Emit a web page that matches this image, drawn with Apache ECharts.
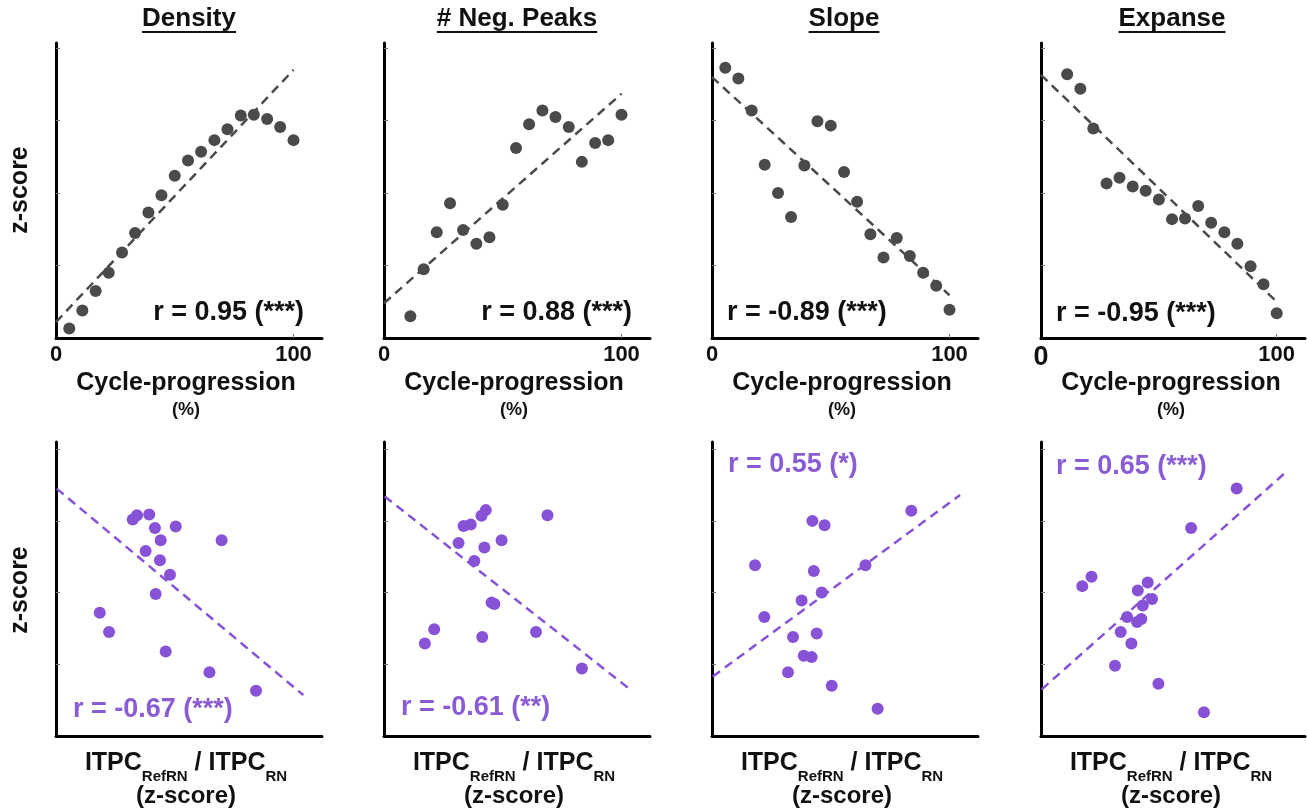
<!DOCTYPE html>
<html lang="en">
<head>
<meta charset="UTF-8" />
<title>Cycle-progression correlations</title>
<script src="https://cdn.jsdelivr.net/npm/echarts@6/dist/echarts.min.js"></script>
<style>
  html, body { margin: 0; padding: 0; background: #fff; }
  #main { width: 1307px; height: 811px; }
</style>
</head>
<body>
<div id="main"></div>
<script>
// ---- data ----
const titles = ["Density", "# Neg. Peaks", "Slope", "Expanse"]

// top row: cycle progression (%) vs z-score
const progress18 = [5.6, 11.1, 16.7, 22.2, 27.8, 33.3, 38.9, 44.4, 50, 55.6, 61.1, 66.7, 72.2, 77.8, 83.3, 88.9, 94.4, 100]
const progress17 = [11.1, 16.7, 22.2, 27.8, 33.3, 38.9, 44.4, 50, 55.6, 61.1, 66.7, 72.2, 77.8, 83.3, 88.9, 94.4, 100]

const densityZ = [0.13, 0.38, 0.65, 0.9, 1.18, 1.45, 1.73, 1.97, 2.24, 2.45, 2.57, 2.73, 2.88, 3.07, 3.08, 3.02, 2.91, 2.73]
const negPeaksZ = [0.3, 0.95, 1.46, 1.86, 1.49, 1.3, 1.39, 1.84, 2.62, 2.95, 3.14, 3.05, 2.91, 2.43, 2.69, 2.73, 3.08]
const slopeZ = [3.73, 3.58, 3.14, 2.39, 2.0, 1.67, 2.38, 2.99, 2.93, 2.29, 1.88, 1.43, 1.11, 1.38, 1.13, 0.9, 0.72, 0.39]
const expanseZ = [3.64, 3.44, 2.89, 2.13, 2.21, 2.09, 2.03, 1.91, 1.64, 1.65, 1.82, 1.59, 1.46, 1.3, 0.99, 0.74, 0.34]

// fit lines (value at 0 % and at 100 %)
const densityFit = [0.22, 3.7]
const negPeaksFit = [0.48, 3.37]
const slopeFit = [3.6, 0.59]
const expanseFit = [3.63, 0.5]

// bottom row: ITPC ratio (z-score) vs feature z-score
const densityItpc = [1.07, 1.13, 1.30, 1.38, 1.67, 1.46, 2.31, 1.25, 1.45, 1.59, 1.39, 0.61, 0.74, 1.53, 2.14, 2.79]
const densityItpcZ = [3.02, 3.08, 3.09, 2.9, 2.92, 2.73, 2.73, 2.58, 2.45, 2.25, 1.98, 1.72, 1.45, 1.18, 0.89, 0.63]
const negPeaksItpc = [1.42, 1.36, 1.21, 1.11, 2.28, 1.64, 1.04, 1.40, 1.26, 1.50, 1.54, 0.70, 0.57, 1.37, 2.12, 2.76]
const negPeaksItpcZ = [3.15, 3.07, 2.95, 2.93, 3.08, 2.73, 2.69, 2.63, 2.44, 1.86, 1.84, 1.49, 1.29, 1.38, 1.45, 0.94]
const slopeItpc = [2.78, 1.40, 1.57, 0.60, 1.42, 2.14, 1.53, 1.25, 0.73, 1.13, 1.46, 1.28, 1.39, 1.06, 1.67, 2.31]
const slopeItpcZ = [3.14, 3.0, 2.94, 2.38, 2.3, 2.38, 2.0, 1.89, 1.66, 1.38, 1.43, 1.12, 1.1, 0.89, 0.7, 0.38]
const expanseItpc = [2.75, 2.11, 0.71, 0.58, 1.50, 1.36, 1.56, 1.43, 1.21, 1.41, 1.35, 1.12, 1.27, 1.04, 1.65, 2.29]
const expanseItpcZ = [3.45, 2.9, 2.22, 2.09, 2.14, 2.03, 1.91, 1.82, 1.66, 1.63, 1.59, 1.45, 1.29, 0.98, 0.73, 0.33]

const densityItpcFit = [[0.01, 3.45], [3.45, 0.57]]
const negPeaksItpcFit = [[0.01, 3.34], [3.42, 0.66]]
const slopeItpcFit = [[0.01, 0.83], [3.46, 3.36]]
const expanseItpcFit = [[0.01, 0.65], [3.42, 3.66]]

const topR = ["r = 0.95 (***)", "r = 0.88 (***)", "r = -0.89 (***)", "r = -0.95 (***)"]
const bottomR = ["r = -0.67 (***)", "r = -0.61 (**)", "r = 0.55 (*)", "r = 0.65 (***)"]

// ---- layout ----
const FONT = '"Liberation Sans", Arial, sans-serif'
const GRAY = "#4a4a4a"
const PURPLE = "#8752d6"
const PURPLE_TXT = "#8a5cd4"

const colLeft = [56, 384, 712, 1041]
const colWidth = [266, 266, 266, 264]
const topGrid = { top: 43, height: 295 }
const botGrid = { top: 442, height: 294 }

const topX = [progress18, progress17, progress18, progress17]
const topY = [densityZ, negPeaksZ, slopeZ, expanseZ]
const topFit = [densityFit, negPeaksFit, slopeFit, expanseFit]
const botX = [densityItpc, negPeaksItpc, slopeItpc, expanseItpc]
const botY = [densityItpcZ, negPeaksItpcZ, slopeItpcZ, expanseItpcZ]
const botFit = [densityItpcFit, negPeaksItpcFit, slopeItpcFit, expanseItpcFit]

const grids = [], xAxes = [], yAxes = [], series = [], graphics = []

const axisLine = { show: true, lineStyle: { color: "#000", width: 3 } }
const yTick = { show: true, inside: true, length: 4, customValues: [1, 2, 3, 4], lineStyle: { color: "#777", width: 1 } }

for (let i = 0; i < 4; i++) {
    // top row -> grid i
    grids[i] = { left: colLeft[i], width: colWidth[i], top: topGrid.top, height: topGrid.height }
    xAxes[i] = {
        gridIndex: i, type: "value", min: 0, max: 112,
        axisLine: axisLine, splitLine: { show: false },
        axisTick: { show: true, inside: true, length: 4, customValues: [100], lineStyle: { color: "#777" } },
        axisLabel: {
            customValues: [0, 100], margin: 6, color: "#111", fontFamily: FONT, fontWeight: "bold", fontSize: 22,
            formatter: (v) => (i === 3 && v === 0 ? "{big|0}" : String(v)),
            rich: { big: { fontSize: 27, fontWeight: "bold", fontFamily: FONT, color: "#111" } },
        },
    }
    yAxes[i] = {
        gridIndex: i, type: "value", min: 0, max: 4.07,
        axisLine: axisLine, splitLine: { show: false }, axisTick: yTick, axisLabel: { show: false },
    }
    series.push({
        type: "scatter", xAxisIndex: i, yAxisIndex: i, symbolSize: 12,
        itemStyle: { color: GRAY, opacity: 1 },
        data: topX[i].map((x, k) => [x, topY[i][k]]),
        z: 3,
    })
    series.push({
        type: "line", xAxisIndex: i, yAxisIndex: i, symbol: "none", silent: true,
        lineStyle: { color: GRAY, width: 2.5, type: [9, 6] },
        data: [[0, topFit[i][0]], [100, topFit[i][1]]],
        z: 2,
    })

    // bottom row -> grid i + 4
    const b = i + 4
    grids[b] = { left: colLeft[i], width: colWidth[i], top: botGrid.top, height: botGrid.height }
    xAxes[b] = {
        gridIndex: b, type: "value", min: 0, max: 3.71,
        axisLine: axisLine, splitLine: { show: false }, axisTick: { show: false }, axisLabel: { show: false },
    }
    yAxes[b] = {
        gridIndex: b, type: "value", min: 0, max: 4.1,
        axisLine: axisLine, splitLine: { show: false }, axisTick: yTick, axisLabel: { show: false },
    }
    series.push({
        type: "scatter", xAxisIndex: b, yAxisIndex: b, symbolSize: 12,
        itemStyle: { color: PURPLE, opacity: 1 },
        data: botX[i].map((x, k) => [x, botY[i][k]]),
        z: 3,
    })
    series.push({
        type: "line", xAxisIndex: b, yAxisIndex: b, symbol: "none", silent: true,
        lineStyle: { color: PURPLE, width: 2.5, type: [9, 6] },
        data: botFit[i],
        z: 2,
    })
}

// text measuring for the title underlines
const measureCtx = document.createElement("canvas").getContext("2d")
function textWidth(t, size) {
    measureCtx.font = "bold " + size + "px " + FONT
    return measureCtx.measureText(t).width
}

const titleCenters = [189, 517, 844, 1172]
const centers = colLeft.map((l) => l + 133)

for (let i = 0; i < 4; i++) {
    // title, underlined
    const w = textWidth(titles[i], 26)
    graphics.push({
        type: "text", x: titleCenters[i], y: 19,
        style: { text: titles[i], fill: "#111", font: "bold 26px " + FONT, align: "center", verticalAlign: "middle" },
    })
    graphics.push({
        type: "rect", shape: { x: titleCenters[i] - w / 2, y: 31, width: w, height: 2 },
        style: { fill: "#111" },
    })

    // top x axis name
    graphics.push({
        type: "text", x: centers[i] - 3, y: 383,
        style: { text: "Cycle-progression", fill: "#111", font: "bold 25px " + FONT, align: "center", verticalAlign: "middle" },
    })
    graphics.push({
        type: "text", x: centers[i] - 3, y: 410,
        style: { text: "(%)", fill: "#111", font: "bold 18px " + FONT, align: "center", verticalAlign: "middle" },
    })

    // bottom x axis name with subscripts
    graphics.push({
        type: "text", x: centers[i] - 3, y: 784,
        style: {
            text: "{m|ITPC}{s|RefRN}{m| / ITPC}{s|RN}",
            align: "center", verticalAlign: "bottom",
            rich: {
                m: { font: "bold 25px " + FONT, fill: "#111", lineHeight: 42, verticalAlign: "middle" },
                s: { font: "bold 15px " + FONT, fill: "#111", lineHeight: 15, verticalAlign: "bottom" },
            },
        },
    })
    graphics.push({
        type: "text", x: centers[i] - 3, y: 796,
        style: { text: "(z-score)", fill: "#111", font: "bold 24px " + FONT, align: "center", verticalAlign: "middle" },
    })
}

// correlation labels
const topRPos = [[304, 313, "right"], [632, 313, "right"], [727, 313, "left"], [1056, 314, "left"]]
const botRPos = [[73, 710, "left"], [401, 708, "left"], [728, 465, "left"], [1056, 467, "left"]]
for (let i = 0; i < 4; i++) {
    graphics.push({
        type: "text", x: topRPos[i][0], y: topRPos[i][1],
        style: { text: topR[i], fill: "#111", font: "bold 27px " + FONT, align: topRPos[i][2], verticalAlign: "middle" },
        z: 10,
    })
    graphics.push({
        type: "text", x: botRPos[i][0], y: botRPos[i][1],
        style: { text: bottomR[i], fill: PURPLE_TXT, font: "bold 27px " + FONT, align: botRPos[i][2], verticalAlign: "middle" },
        z: 10,
    })
}

// y axis names
;[190, 590].forEach((cy) => {
    graphics.push({
        type: "text", x: 20, y: cy, rotation: Math.PI / 2,
        style: { text: "z-score", fill: "#111", font: "bold 25px " + FONT, align: "center", verticalAlign: "middle" },
    })
})

const chart = echarts.init(document.getElementById("main"), null, { renderer: "canvas" })
chart.setOption({
    animation: false,
    backgroundColor: "#fff",
    grid: grids,
    xAxis: xAxes,
    yAxis: yAxes,
    series: series,
    graphic: graphics,
})
</script>
</body>
</html>
